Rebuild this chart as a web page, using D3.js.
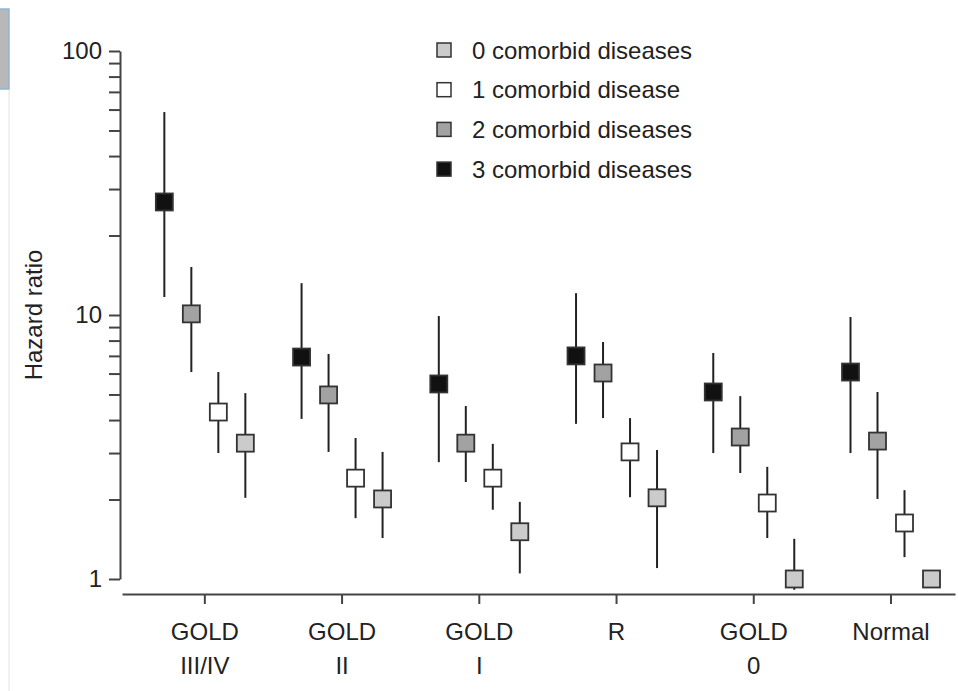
<!DOCTYPE html>
<html lang="en">
<head>
<meta charset="UTF-8">
<script src="https://d3js.org/d3.v7.min.js"></script>
<title>Hazard ratio by GOLD stage</title>
<style>
    body { margin: 0; background: #fff; }
    svg text { font-family: "Liberation Sans", Arial, Helvetica, sans-serif; fill: #222; }
    .axis path, .axis line { stroke: #444; stroke-width: 2; }
</style>
</head>
<body>
<svg id="chart" width="958" height="691"></svg>
<script>
// groups along the x axis (two-line labels)
const groupTop = ["GOLD", "GOLD", "GOLD", "R", "GOLD", "Normal"];
const groupBottom = ["III/IV", "II", "I", "", "0", ""];

// series: number of comorbid diseases
const seriesNames = ["0 comorbid diseases", "1 comorbid disease", "2 comorbid diseases", "3 comorbid diseases"];
const seriesFill = ["#cbcbcb", "#ffffff", "#a2a2a2", "#111111"];

// hazard ratios and 95% CI per series, one value per group
const hr0 = [3.27, 2.01, 1.51, 2.03, 1.0, 1.0];
const lo0 = [2.03, 1.43, 1.05, 1.10, 0.91, null];
const hi0 = [5.06, 3.03, 1.96, 3.08, 1.42, null];
const hr1 = [4.29, 2.41, 2.41, 3.03, 1.94, 1.63];
const lo1 = [3.0, 1.70, 1.83, 2.04, 1.43, 1.21];
const hi1 = [6.08, 3.42, 3.25, 4.07, 2.66, 2.17];
const hr2 = [10.1, 4.98, 3.27, 6.03, 3.45, 3.33];
const lo2 = [6.08, 3.03, 2.33, 4.07, 2.52, 2.01];
const hi2 = [15.2, 7.12, 4.52, 7.9, 4.93, 5.11];
const hr3 = [26.8, 6.93, 5.48, 7.0, 5.11, 6.08];
const lo3 = [11.7, 4.04, 2.77, 3.87, 3.0, 3.0];
const hi3 = [58.7, 13.2, 9.91, 12.1, 7.18, 9.83];

const yTicks = [1, 2, 3, 4, 5, 6, 7, 8, 9, 10, 20, 30, 40, 50, 60, 70, 80, 90, 100];
const yLabels = [1, 10, 100];

const hr = [hr0, hr1, hr2, hr3], lo = [lo0, lo1, lo2, lo3], hi = [hi0, hi1, hi2, hi3];
const points = [];
hr.forEach((vals, s) => vals.forEach((v, g) => {
    points.push({ s: s, g: g, hr: v, lo: lo[s][g], hi: hi[s][g] });
}));

const svg = d3.select("#chart");
const fs = "24px";

// little scrap of the page the figure was cut from
svg.append("rect").attr("x", -2).attr("y", 9).attr("width", 11).attr("height", 80)
    .attr("fill", "#b8b8b8").attr("stroke", "#8fb6d6").attr("stroke-width", 1.5);
svg.append("line").attr("x1", 9).attr("x2", 9).attr("y1", 90).attr("y2", 691)
    .attr("stroke", "#ececec").attr("stroke-width", 1.5);

const x = d3.scaleLinear().domain([-0.6, 5.47]).range([122, 955]);
const off = d3.scalePoint().domain([3, 2, 1, 0]).range([-40, 41]);
const y = d3.scaleLog().domain([1, 100]).range([579, 51]);

// y axis
const yAxis = svg.append("g").attr("class", "axis")
    .attr("transform", "translate(120,0)")
    .call(d3.axisLeft(y).tickValues(yTicks).tickSize(11).tickSizeOuter(0).tickPadding(7)
        .tickFormat(d => yLabels.includes(d) ? d : ""));
yAxis.selectAll("text").style("font-size", fs);

// x axis
const xAxis = svg.append("g").attr("class", "axis")
    .attr("transform", "translate(0,594)")
    .call(d3.axisBottom(x).tickValues(d3.range(groupTop.length)).tickSize(10).tickSizeOuter(0)
        .tickFormat(""));
xAxis.selectAll(".tick").each(function (d) {
    const t = d3.select(this).append("text").attr("text-anchor", "middle")
        .style("font-size", fs);
    t.append("tspan").attr("x", 0).attr("y", 46).text(groupTop[d]);
    t.append("tspan").attr("x", 0).attr("y", 80).text(groupBottom[d]);
});

svg.append("text")
    .attr("transform", "translate(42," + y(10) + ") rotate(-90)")
    .attr("text-anchor", "middle")
    .style("font-size", fs)
    .text("Hazard ratio");

// whiskers
svg.append("g").selectAll("line")
    .data(points.filter(d => d.lo != null))
    .join("line")
    .attr("x1", d => x(d.g) + off(d.s)).attr("x2", d => x(d.g) + off(d.s))
    .attr("y1", d => y(d.lo)).attr("y2", d => y(d.hi))
    .attr("stroke", "#222").attr("stroke-width", 2);

// squares
const sz = 17;
svg.append("g").selectAll("rect")
    .data(points)
    .join("rect")
    .attr("x", d => x(d.g) + off(d.s) - sz / 2)
    .attr("y", d => y(d.hr) - sz / 2)
    .attr("width", sz).attr("height", sz)
    .attr("fill", d => seriesFill[d.s])
    .attr("stroke", "#333").attr("stroke-width", 1.8);

// legend
const legend = svg.append("g").attr("transform", "translate(437,50)");
const item = legend.selectAll("g").data(seriesNames).join("g")
    .attr("transform", (d, i) => "translate(0," + i * 39.7 + ")");
item.append("rect").attr("x", 0).attr("y", -7).attr("width", 14).attr("height", 14)
    .attr("fill", (d, i) => seriesFill[i]).attr("stroke", "#333").attr("stroke-width", 1.5);
item.append("text").attr("x", 35).attr("y", 8.5).style("font-size", fs).text(d => d);
</script>
</body>
</html>
